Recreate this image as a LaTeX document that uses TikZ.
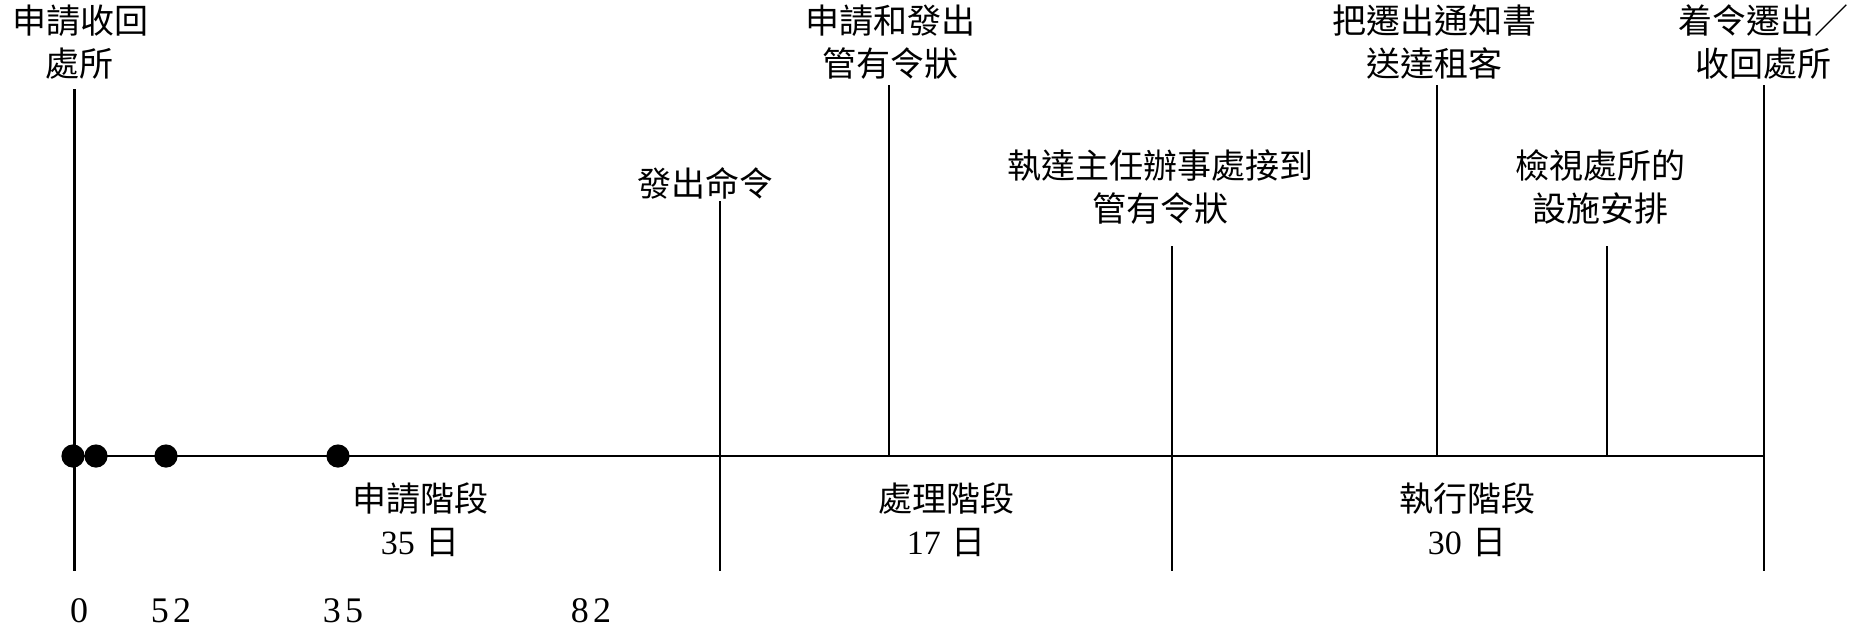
\documentclass[tikz,border=0pt]{standalone}
\usepackage{fontspec}
\setmainfont{Liberation Serif}
\newfontfamily\cjk{Noto Sans CJK TC}
\newfontfamily\numf{Liberation Serif}
\begin{document}
\begin{tikzpicture}[x=0.5pt,y=-0.5pt,
  lbl/.style={font=\cjk\fontsize{17}{21.5}\selectfont, align=center, inner sep=0pt},
  num/.style={font=\numf\fontsize{18}{21.5}\selectfont, inner sep=0pt},
  ln/.style={line width=1.1pt},
  dot/.style={circle, fill=black, inner sep=0pt, minimum size=11.6pt}]
\useasboundingbox (0,0) rectangle (1854,629);
% axis base points
\coordinate (b0) at (74.5,456);
\coordinate (b1) at (720,456);
\coordinate (b2) at (889,456);
\coordinate (b3) at (1172,456);
\coordinate (b4) at (1437,456);
\coordinate (b5) at (1607,456);
\coordinate (b6) at (1764,456);
% line ends
\coordinate (t0) at (74.5,89);  \coordinate (e0) at (74.5,571);
\coordinate (t1) at (720,201);  \coordinate (e1) at (720,571);
\coordinate (t2) at (889,85);
\coordinate (t3) at (1172,246); \coordinate (e3) at (1172,571);
\coordinate (t4) at (1437,85);
\coordinate (t5) at (1607,246);
\coordinate (t6) at (1764,85);  \coordinate (e6) at (1764,571);
% lines
\draw[ln] (b0) -- (b6);
\draw[ln] (t0) -- (e0);
\draw[ln] (t1) -- (e1);
\draw[ln] (t2) -- (b2);
\draw[ln] (t3) -- (e3);
\draw[ln] (t4) -- (b4);
\draw[ln] (t5) -- (b5);
\draw[ln] (t6) -- (e6);
% dots
\node[dot] (d1) at (73,456) {};
\node[dot] (d2) at (96,456) {};
\node[dot] (d3) at (166,456) {};
\node[dot] (d4) at (338,456) {};
% top labels
\node[lbl] (l0) at (80,42) {申請收回\\處所};
\node[lbl] (l1) at (705,183) {發出命令};
\node[lbl] (l2) at (890,42) {申請和發出\\管有令狀};
\node[lbl] (l3) at (1160,187) {執達主任辦事處接到\\管有令狀};
\node[lbl] (l4) at (1434,42) {把遷出通知書\\送達租客};
\node[lbl] (l5) at (1600,187) {檢視處所的\\設施安排};
\node[lbl] (l6) at (1763,42) {着令遷出／\\收回處所};
% phase labels
\node[lbl] (p1) at (420,520) {申請階段\\{\numf 35}\hspace{0.3em}日};
\node[lbl] (p2) at (946,520) {處理階段\\{\numf 17}\hspace{0.3em}日};
\node[lbl] (p3) at (1467,520) {執行階段\\{\numf 30}\hspace{0.3em}日};
% bottom numbers
\node[num] (n0) at (79,611) {0};
\node[num] (n1) at (171,611) {5\kern0.12em2};
\node[num] (n2) at (343,611) {3\kern0.12em5};
\node[num] (n3) at (591,611) {8\kern0.12em2};
\end{tikzpicture}
\end{document}
